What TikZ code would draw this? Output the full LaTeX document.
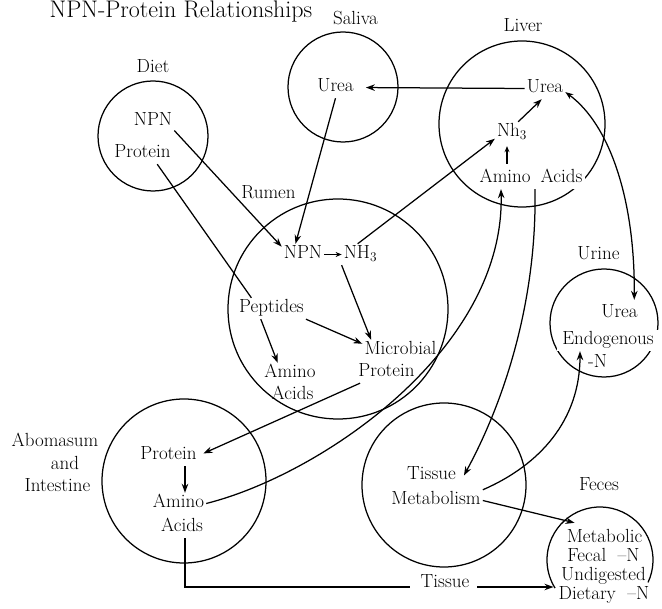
\documentclass[tikz,border=0pt]{standalone}
\usetikzlibrary{arrows.meta}
\begin{document}
\begin{tikzpicture}[x=1pt,y=-1pt,
  lbl/.style={font=\fontsize{19}{21}\selectfont, inner sep=2pt, text height=13pt, text depth=4pt, anchor=base},
  ring/.style={circle, draw, line width=1.25pt, inner sep=0pt},
  ln/.style={line width=1.25pt},
  arr/.style={line width=1.25pt, -{Stealth[length=9pt,width=6.5pt]}},
  sarr/.style={line width=1.25pt, -{Stealth[length=6pt,width=5pt]}}]
\useasboundingbox (0,0) rectangle (662,609);

% circles
\node[ring, minimum size=110pt] (cdiet) at (153,136) {};
\node[ring, minimum size=110pt] (csal) at (343,87) {};
\node[ring, minimum size=166pt] (cliv) at (522,124) {};
\node[ring, minimum size=220pt] (crum) at (338,309) {};
\node[ring, minimum size=108pt] (curi) at (604,323) {};
\node[ring, minimum size=164pt] (cabo) at (184,481) {};
\node[ring, minimum size=164pt] (ctis) at (444,485) {};
\coordinate (cfec) at (600,560);
\draw[ln] (cfec) ++(-25:53pt) arc[start angle=-25, end angle=212, radius=53pt];

% labels
\node[lbl, font=\fontsize{24}{26}\selectfont, text height=17pt] (title) at (181,18) {NPN-Protein Relationships};
\node[lbl] (ldiet) at (153,73) {Diet};
\node[lbl] (dnpn) at (153,126) {NPN};
\node[lbl] (dprot) at (142.5,158) {Protein};
\node[lbl] (lsal) at (355.5,25) {Saliva};
\node[lbl] (surea) at (335.5,92) {Urea};
\node[lbl] (lliv) at (523,32) {Liver};
\node[lbl] (lurea) at (545,93) {Urea};
\node[lbl] (lnh3) at (512,137) {Nh\textsubscript{3}};
\node[lbl, fill=white, inner xsep=3pt] (laa) at (531,183) {Amino\hspace{10pt}Acids};
\node[lbl] (lrum) at (268.5,199) {Rumen};
\node[lbl] (rnpn) at (303,259) {NPN};
\node[lbl] (rnh3) at (360.5,259) {NH\textsubscript{3}};
\node[lbl] (pept) at (271.5,313) {Peptides};
\node[lbl] (micro) at (400.5,355) {Microbial};
\node[lbl] (mprot) at (386.5,377) {Protein};
\node[lbl] (raa) at (290,378) {Amino};
\node[lbl] (rac) at (292.5,400) {Acids};
\node[lbl] (luri) at (598.5,260) {Urine};
\node[lbl] (uurea) at (619.5,318) {Urea};
\node[lbl, fill=white, inner xsep=5pt] (uendo) at (608,345) {Endogenous};
\node[lbl] (un) at (597.5,368) {-N};
\node[lbl] (labo1) at (55,447) {Abomasum};
\node[lbl] (labo2) at (65,470) {and};
\node[lbl] (labo3) at (57.5,492) {Intestine};
\node[lbl] (aprot) at (168.5,460) {Protein};
\node[lbl] (aamino) at (178.5,508) {Amino};
\node[lbl] (aacids) at (182,532) {Acids};
\node[lbl] (tiss) at (431.5,480) {Tissue};
\node[lbl] (tmet) at (436,505) {Metabolism};
\node[lbl] (lfec) at (599,491) {Feces};
\node[lbl] (fmeta) at (604.5,543) {Metabolic};
\node[lbl] (ffec) at (603.5,562) {Fecal \ --N};
\node[lbl] (fund) at (603.5,580) {Undigested};
\node[lbl] (fdiet) at (604,600) {Dietary \ --N};
\node[lbl] (btiss) at (445,587) {Tissue};

% connectors
\draw[arr] (dnpn.-23) -- (rnpn.160);
\draw[ln] (dprot.-36) -- (pept.152);
\draw[arr] (surea.south) -- (rnpn.125);
\draw[arr, shorten >=10pt] (lurea.west) -- (surea.east);
\draw[sarr] (rnpn.east) -- (rnh3.west);
\draw[arr] (rnh3.105) -- (lnh3.200);
\draw[sarr, shorten <=4pt, shorten >=3pt] ([xshift=-24pt]laa.north) -- ([xshift=-5pt]lnh3.south);
\draw[arr] (lnh3.60) -- (lurea.-107);
\draw[line width=1.25pt, {Stealth[length=8pt,width=6pt]}-{Stealth[length=9pt,width=6.5pt]}, shorten >=3pt]
  (lurea.-10) .. controls (610,125) and (635,200) .. (uurea.36);
\draw[arr] (rnh3.south west) -- (micro.160);
\draw[arr] (pept.south east) -- (micro.170);
\draw[arr] (pept.-135) -- (raa.139);
\draw[arr, shorten >=5pt] (mprot.-158) -- (aprot.east);
\draw[arr] ([xshift=16.5pt]aprot.south) -- ([xshift=6.5pt]aamino.north);
\draw[arr] (aamino.east) .. controls (320,475) and (505,350) .. ([xshift=-30pt]laa.south);
\draw[arr] ([xshift=4pt]laa.south) .. controls (537,300) and (505,400) .. ([xshift=6pt]tiss.east);
\draw[arr] (tmet.north east) .. controls (540,465) and (580,420) .. ([xshift=-28pt]uendo.south);
\draw[arr] (tmet.east) -- ([xshift=10pt,yshift=5pt]fmeta.north west);
\draw[ln] ([xshift=3pt]aacids.south) |- ([xshift=-9pt]btiss.base west);
\draw[arr, shorten >=3pt] ([xshift=6pt]btiss.base east) -- (btiss.base east -| fdiet.west);
\end{tikzpicture}
\end{document}
